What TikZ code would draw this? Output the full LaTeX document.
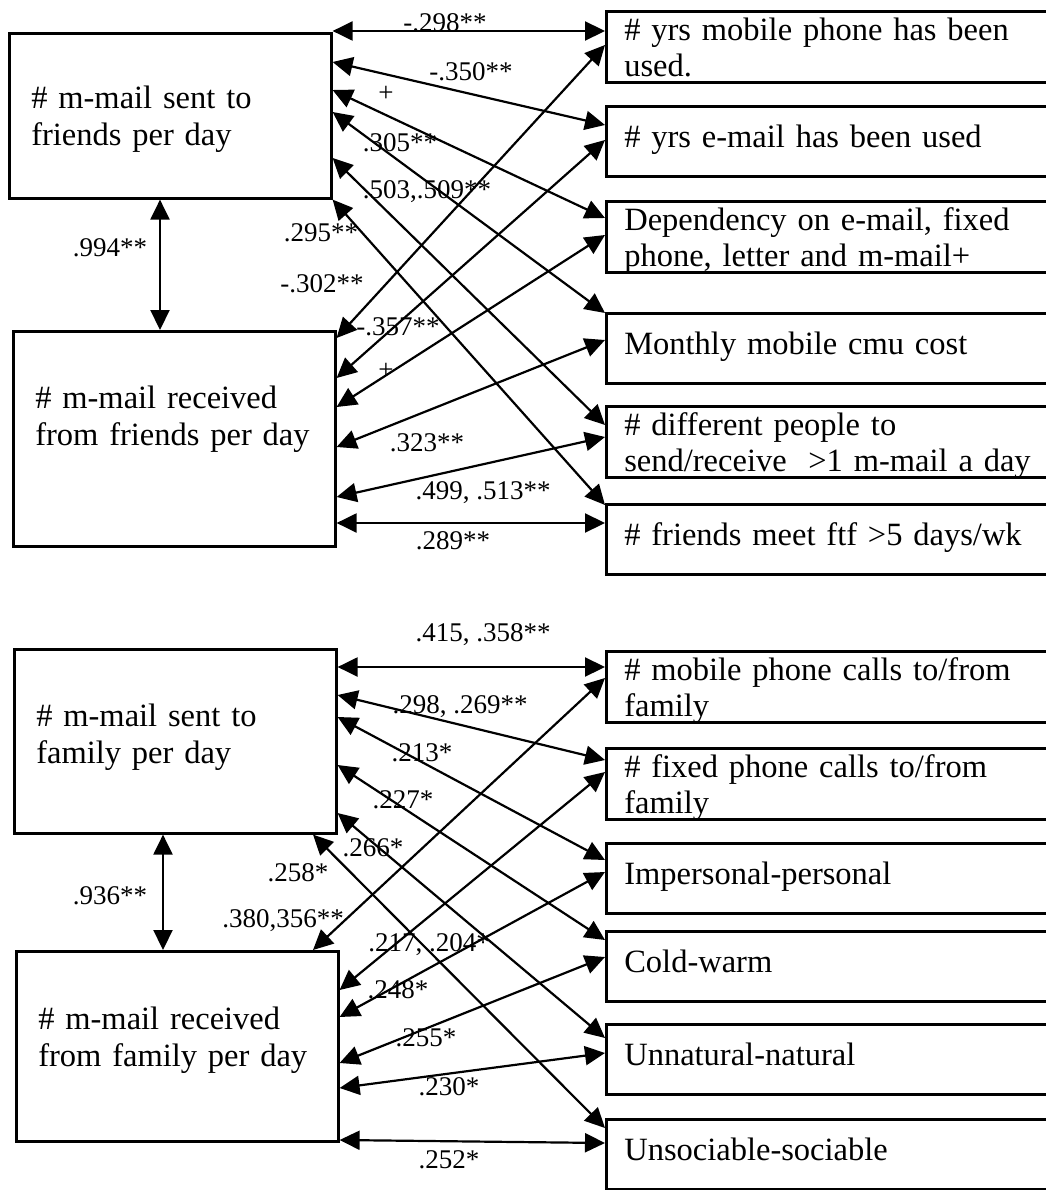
\documentclass[tikz,border=0pt]{standalone}
\usepackage{fontspec}
\setmainfont{Liberation Serif}
\usetikzlibrary{arrows.meta}

\tikzset{
  varbox/.style={draw,line width=2.6pt,rectangle,anchor=north west,align=left,
    inner ysep=0pt,font=\fontsize{32.5}{37}\selectfont},
  leftbox/.style={varbox,text width=278pt,inner xsep=22pt},
  rightbox/.style={varbox,text width=430pt,inner xsep=18pt,font=\fontsize{32.5}{36}\selectfont},
  oneline/.style={rightbox,text height=41pt,text depth=29pt},
  twoline/.style={rightbox,text height=29pt,text depth=42pt},
  corr/.style={draw,line width=2.2pt,{Triangle[length=20pt,width=19pt]}-{Triangle[length=20pt,width=19pt]}},
  lbl/.style={inner sep=0pt,font=\fontsize{27}{27}\selectfont},
}

\begin{document}
\begin{tikzpicture}[x=1pt,y=-1pt]
  \useasboundingbox (0,0) rectangle (1045,1190);

  % friends
  \draw (8,32)    node[leftbox,text height=75pt,text depth=90pt](sentF) {\# m-mail sent to\\friends per day};
  \draw (12,330)  node[leftbox,text height=77pt,text depth=138pt](recvF) {\# m-mail received\\from friends per day};

  \draw (605,10)  node[twoline](yrsMob)  {\# yrs mobile phone has been\\used.};
  \draw (605,105) node[oneline](yrsMail) {\# yrs e-mail has been used};
  \draw (605,200) node[twoline](depend)  {Dependency on e-mail, fixed\\phone, letter and m-mail+};
  \draw (605,312) node[oneline](cost)    {Monthly mobile cmu cost};
  \draw (605,405) node[twoline](people)  {\# different people to\\send/receive~ >1 m-mail a day};
  \draw (605,503) node[oneline](meet)    {\# friends meet ftf >5 days/wk};

  \path[corr] (sentF.south -| 160,0) -- (recvF.north -| 160,0);

  \path[corr] (sentF.east |- 0,31)  -- (yrsMob.west |- 0,31);
  \path[corr] (sentF.east |- 0,62)  -- (yrsMail.west |- 0,125);
  \path[corr] (sentF.east |- 0,90)  -- (depend.west |- 0,218);
  \path[corr] (sentF.east |- 0,112) -- (cost.west |- 0,313);
  \path[corr] (sentF.east |- 0,158) -- (people.west |- 0,425);
  \path[corr] (sentF.south east)    -- (meet.west |- 0,505);

  \path[corr] (recvF.east |- 0,338) -- (yrsMob.west |- 0,45);
  \path[corr] (recvF.east |- 0,378) -- (yrsMail.west |- 0,140);
  \path[corr] (recvF.east |- 0,407) -- (depend.west |- 0,235);
  \path[corr] (recvF.east |- 0,447) -- (cost.west |- 0,340);
  \path[corr] (recvF.east |- 0,497) -- (people.west |- 0,437);
  \path[corr] (recvF.east |- 0,523) -- (meet.west |- 0,523);

  \draw (110,248) node[lbl](rF)   {.994**};
  \draw (445,23)  node[lbl](rF1)  {-.298**};
  \draw (471,72)  node[lbl](rF2)  {-.350**};
  \draw (386,94)  node[lbl](rF3)  {+};
  \draw (400,143) node[lbl](rF4)  {.305**};
  \draw (427,192) node[lbl](rF5)  {.503,.509**};
  \draw (321,233) node[lbl](rF6)  {.295**};
  \draw (322,284) node[lbl](rF7)  {-.302**};
  \draw (398,327) node[lbl](rF8)  {-.357**};
  \draw (386,371) node[lbl](rF9)  {+};
  \draw (427,443) node[lbl](rF10) {.323**};
  \draw (483,493) node[lbl](rF11) {.499, .513**};
  \draw (453,541) node[lbl](rF12) {.289**};

  % family
  \draw (13,648)  node[leftbox,text height=77pt,text depth=107pt](sentFam) {\# m-mail sent to\\family per day};
  \draw (15,950)  node[leftbox,text height=78pt,text depth=112pt](recvFam) {\# m-mail received\\from family per day};

  \draw (605,650)  node[twoline](mobCalls) {\# mobile phone calls to/from\\family};
  \draw (605,747)  node[twoline](fixCalls) {\# fixed phone calls to/from\\family};
  \draw (605,842)  node[oneline](personal) {Impersonal-personal};
  \draw (605,930)  node[oneline](warm)     {Cold-warm};
  \draw (605,1023) node[oneline](natural)  {Unnatural-natural};
  \draw (605,1118) node[oneline](sociable) {Unsociable-sociable};

  \path[corr] (sentFam.south -| 163,0) -- (recvFam.north -| 163,0);

  \path[corr] (sentFam.east |- 0,667) -- (mobCalls.west |- 0,667);
  \path[corr] (sentFam.east |- 0,695) -- (fixCalls.west |- 0,760);
  \path[corr] (sentFam.east |- 0,717) -- (personal.west |- 0,860);
  \path[corr] (sentFam.east |- 0,765) -- (warm.west |- 0,940);
  \path[corr] (sentFam.east |- 0,813) -- (natural.west |- 0,1038);
  \path[corr] (sentFam.south -| 313,0) -- (sociable.west |- 0,1128);

  \path[corr] (recvFam.north -| 313,0) -- (mobCalls.west |- 0,678);
  \path[corr] (recvFam.east |- 0,990)  -- (fixCalls.west |- 0,772);
  \path[corr] (recvFam.east |- 0,1017) -- (personal.west |- 0,872);
  \path[corr] (recvFam.east |- 0,1063) -- (warm.west |- 0,957);
  \path[corr] (recvFam.east |- 0,1088) -- (natural.west |- 0,1053);
  \path[corr] (recvFam.east |- 0,1140) -- (sociable.west |- 0,1143);

  \draw (110,896)  node[lbl](rM)   {.936**};
  \draw (483,635)  node[lbl](rM1)  {.415, .358**};
  \draw (460,707)  node[lbl](rM2)  {.298, .269**};
  \draw (422,753)  node[lbl](rM3)  {.213*};
  \draw (403,800)  node[lbl](rM4)  {.227*};
  \draw (373,848)  node[lbl](rM5)  {.266*};
  \draw (298,873)  node[lbl](rM6)  {.258*};
  \draw (283,921)  node[lbl](rM7)  {.380,356**};
  \draw (429,945)  node[lbl](rM8)  {.217, .204*};
  \draw (398,990)  node[lbl](rM9)  {.248*};
  \draw (426,1038) node[lbl](rM10) {.255*};
  \draw (449,1087) node[lbl](rM11) {.230*};
  \draw (449,1160) node[lbl](rM12) {.252*};

\end{tikzpicture}
\end{document}
